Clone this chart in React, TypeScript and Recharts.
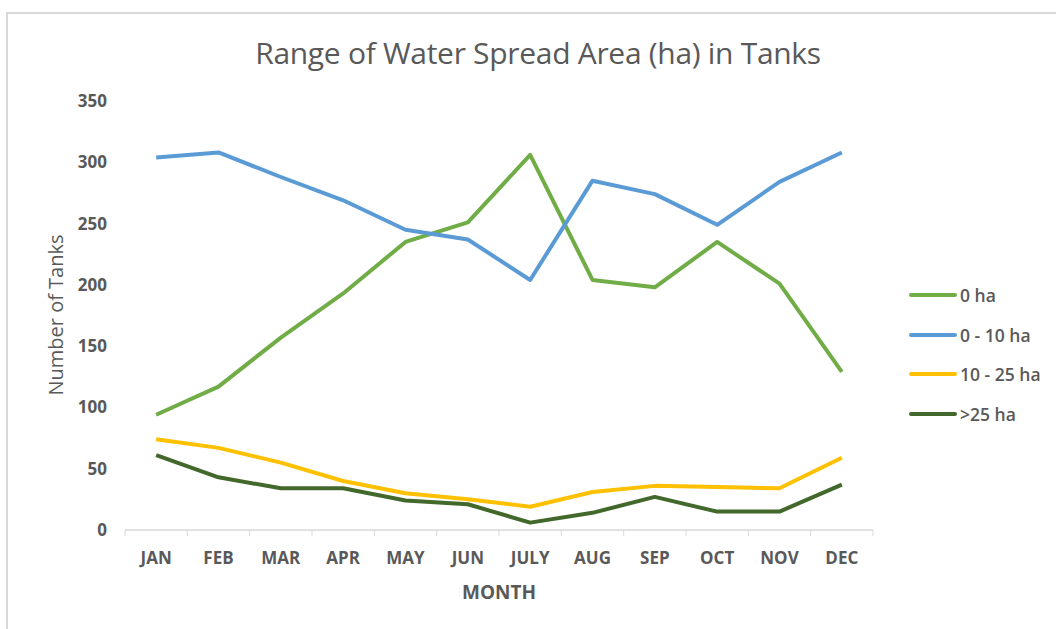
import React from "react";
import { LineChart, Line, XAxis, YAxis } from "recharts";

const months = ["JAN", "FEB", "MAR", "APR", "MAY", "JUN", "JULY", "AUG", "SEP", "OCT", "NOV", "DEC"];
const zeroHa = [94, 117, 157, 193, 235, 251, 306, 204, 198, 235, 201, 129];
const upTo10 = [304, 308, 288, 269, 245, 237, 204, 285, 274, 249, 284, 308];
const from10to25 = [74, 67, 55, 40, 30, 25, 19, 31, 36, 35, 34, 59];
const over25 = [61, 43, 34, 34, 24, 21, 6, 14, 27, 15, 15, 37];
const yTicks = [0, 50, 100, 150, 200, 250, 300, 350];

const seriesNames = ["0 ha", "0 - 10 ha", "10 - 25 ha", ">25 ha"];
const seriesKeys = ["zero", "upTo10", "from10to25", "over25"];
const seriesColors = ["#70ad47", "#5b9bd5", "#ffc000", "#43682b"];

const data = months.map((m, i) => ({
  month: m,
  zero: zeroHa[i],
  upTo10: upTo10[i],
  from10to25: from10to25[i],
  over25: over25[i],
}));

const W = 1056;
const H = 629;
const PLOT_LEFT = 125;
const PLOT_RIGHT = 873;
const PLOT_TOP = 101;
const PLOT_BOTTOM = 530;
const BAND = (PLOT_RIGHT - PLOT_LEFT) / months.length;
const X_TICK_MARGIN = 22;
const FONT = "'Open Sans', 'Liberation Sans', sans-serif";
const TEXT = "#595959";

const XTick = (props: any) => {
  const { x, y, payload, index } = props;
  const axisY = y - X_TICK_MARGIN;
  const isLast = index === months.length - 1;
  return (
    <g>
      <line x1={x - BAND / 2} x2={x - BAND / 2} y1={axisY} y2={axisY + 6} stroke="#d9d9d9" strokeWidth={1} />
      {isLast && (
        <line x1={x + BAND / 2} x2={x + BAND / 2} y1={axisY} y2={axisY + 6} stroke="#d9d9d9" strokeWidth={1} />
      )}
      <text x={x} y={y} dy="0.71em" textAnchor="middle" fill={TEXT} fontSize={17} fontWeight={700} fontFamily={FONT}>
        {payload.value}
      </text>
    </g>
  );
};

export default function App() {
  return (
    <div style={{ position: "absolute", left: 0, top: 0, width: W, height: H, background: "#fff", overflow: "hidden" }}>
      <div
        style={{
          position: "absolute",
          left: 6,
          top: 12,
          width: W + 20,
          height: H + 20,
          border: "2px solid #d9d9d9",
          boxSizing: "border-box",
        }}
      />
      <LineChart
        width={W}
        height={H}
        data={data}
        margin={{ top: PLOT_TOP, right: W - PLOT_RIGHT, bottom: H - PLOT_BOTTOM - 30, left: PLOT_LEFT - 60 }}
        style={{ position: "absolute", left: 0, top: 0 }}
      >
        <XAxis
          dataKey="month"
          height={30}
          stroke="#d9d9d9"
          strokeWidth={1.5}
          tickLine={false}
          tickSize={0}
          tickMargin={X_TICK_MARGIN}
          tick={<XTick />}
          interval={0}
          padding={{ left: BAND / 2, right: BAND / 2 }}
        />
        <YAxis
          width={60}
          domain={[0, 350]}
          ticks={yTicks}
          axisLine={false}
          tickLine={false}
          tickSize={0}
          tickMargin={18}
          tick={{ fill: TEXT, fontSize: 17, fontWeight: 700, fontFamily: FONT }}
        />
        {seriesKeys.map((k, i) => (
          <Line
            key={k}
            dataKey={k}
            name={seriesNames[i]}
            stroke={seriesColors[i]}
            strokeWidth={4}
            dot={false}
            isAnimationActive={false}
            strokeLinejoin="round"
          />
        ))}
      </LineChart>
      <div
        style={{
          position: "absolute",
          left: 538,
          top: 52,
          transform: "translate(-50%, -50%)",
          whiteSpace: "nowrap",
          fontFamily: FONT,
          fontSize: 30,
          color: TEXT,
          letterSpacing: -0.3,
        }}
      >
        Range of Water Spread Area (ha) in Tanks
      </div>
      <div
        style={{
          position: "absolute",
          left: 55,
          top: 315,
          transform: "translate(-50%, -50%) rotate(-90deg)",
          whiteSpace: "nowrap",
          fontFamily: FONT,
          fontSize: 20,
          color: TEXT,
        }}
      >
        Number of Tanks
      </div>
      <div
        style={{
          position: "absolute",
          left: 499,
          top: 592,
          transform: "translate(-50%, -50%)",
          fontFamily: FONT,
          fontSize: 19,
          fontWeight: 700,
          color: TEXT,
        }}
      >
        MONTH
      </div>
      {seriesNames.map((n, i) => (
        <div
          key={n}
          style={{
            position: "absolute",
            left: 909,
            top: 295 + i * 39.5,
            transform: "translateY(-50%)",
            display: "flex",
            alignItems: "center",
            whiteSpace: "nowrap",
            fontFamily: FONT,
            fontSize: 17.5,
            fontWeight: 600,
            color: TEXT,
          }}
        >
          <span
            style={{
              display: "inline-block",
              width: 48,
              height: 4,
              borderRadius: 2,
              background: seriesColors[i],
              marginRight: 3,
            }}
          />
          {n}
        </div>
      ))}
    </div>
  );
}
